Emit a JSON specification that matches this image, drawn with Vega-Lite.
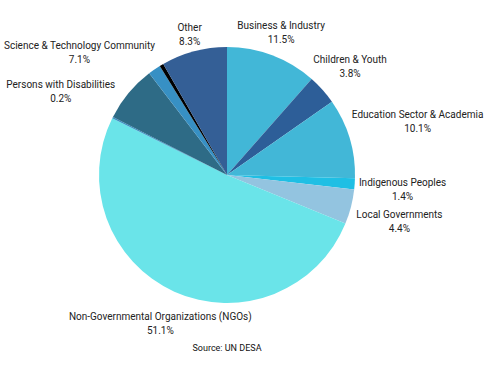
{
  "$schema": "https://vega.github.io/schema/vega-lite/v6.json",
  "autosize": "none",
  "width": 454,
  "height": 350,
  "padding": {"left": 0, "top": 0, "right": 38, "bottom": 27},
  "background": "white",
  "config": {"view": {"stroke": null}, "font": "Roboto"},
  "title": {"text": "Source: UN DESA", "orient": "bottom", "anchor": "middle", "offset": -14, "fontSize": 9, "fontWeight": "normal", "color": "#111", "font": "Roboto"},
  "data": {"values": [
    {"i": 1, "category": "Business & Industry", "value": 11.5, "show": true},
    {"i": 2, "category": "Children & Youth", "value": 3.8, "show": true},
    {"i": 3, "category": "Education Sector & Academia", "value": 10.1, "show": true},
    {"i": 4, "category": "Indigenous Peoples", "value": 1.4, "show": true},
    {"i": 5, "category": "Local Governments", "value": 4.4, "show": true},
    {"i": 6, "category": "Non-Governmental Organizations (NGOs)", "value": 51.1, "show": true},
    {"i": 7, "category": "Persons with Disabilities", "value": 0.2, "show": true},
    {"i": 8, "category": "Science & Technology Community", "value": 7.1, "show": true},
    {"i": 9, "category": "Unlabeled 1", "value": 1.6, "show": false},
    {"i": 10, "category": "Unlabeled 2", "value": 0.5, "show": false},
    {"i": 11, "category": "Other", "value": 8.3, "show": true}
  ]},
  "transform": [
    {"calculate": "datum.show ? datum.category + '\\n' + format(datum.value, '.1f') + '%' : ''", "as": "lbl"}
  ],
  "encoding": {
    "theta": {"field": "value", "type": "quantitative", "stack": true},
    "order": {"field": "i", "type": "quantitative"}
  },
  "layer": [
    {
      "mark": {"type": "arc", "outerRadius": 128, "stroke": null},
      "encoding": {
        "color": {"field": "category", "type": "nominal", "legend": null,
          "scale": {
            "domain": ["Business & Industry", "Children & Youth", "Education Sector & Academia", "Indigenous Peoples", "Local Governments", "Non-Governmental Organizations (NGOs)", "Persons with Disabilities", "Science & Technology Community", "Unlabeled 1", "Unlabeled 2", "Other"],
            "range": ["#42b7d7", "#2d5e98", "#42b7d7", "#1fbfe4", "#93c4e0", "#6ae4e9", "#3b8ec4", "#2e6b86", "#3790c4", "#000000", "#345f96"]
          }
        }
      }
    },
    {
      "mark": {"type": "text", "radius": 145, "dy": -7, "fontSize": 10, "lineBreak": "\n", "lineHeight": 14, "align": "center", "baseline": "middle", "color": "#222"},
      "encoding": {"text": {"condition": {"test": "datum.category == 'Other'", "field": "lbl"}, "value": ""}}
    },
    {
      "mark": {"type": "text", "radius": 153, "dy": -6, "fontSize": 10, "lineBreak": "\n", "lineHeight": 14, "align": "center", "baseline": "middle", "color": "#222"},
      "encoding": {"text": {"condition": {"test": "datum.category == 'Business & Industry'", "field": "lbl"}, "value": ""}}
    },
    {
      "mark": {"type": "text", "radius": 165, "dy": -5, "fontSize": 10, "lineBreak": "\n", "lineHeight": 14, "align": "center", "baseline": "middle", "color": "#222"},
      "encoding": {"text": {"condition": {"test": "datum.category == 'Children & Youth'", "field": "lbl"}, "value": ""}}
    },
    {
      "mark": {"type": "text", "radius": 162, "dy": -6, "fontSize": 10, "lineBreak": "\n", "lineHeight": 14, "align": "center", "baseline": "middle", "color": "#222"},
      "encoding": {"text": {"condition": {"test": "datum.category == 'Non-Governmental Organizations (NGOs)'", "field": "lbl"}, "value": ""}}
    },
    {
      "mark": {"type": "text", "radius": 176, "dy": -4, "fontSize": 10, "lineBreak": "\n", "lineHeight": 14, "align": "center", "baseline": "middle", "color": "#222"},
      "encoding": {"text": {"condition": {"test": "datum.category == 'Indigenous Peoples'", "field": "lbl"}, "value": ""}}
    },
    {
      "mark": {"type": "text", "radius": 178, "dy": -4, "fontSize": 10, "lineBreak": "\n", "lineHeight": 14, "align": "center", "baseline": "middle", "color": "#222"},
      "encoding": {"text": {"condition": {"test": "datum.category == 'Local Governments'", "field": "lbl"}, "value": ""}}
    },
    {
      "mark": {"type": "text", "radius": 186, "dy": -7, "fontSize": 10, "lineBreak": "\n", "lineHeight": 14, "align": "center", "baseline": "middle", "color": "#222"},
      "encoding": {"text": {"condition": {"test": "datum.category == 'Persons with Disabilities'", "field": "lbl"}, "value": ""}}
    },
    {
      "mark": {"type": "text", "radius": 192, "dy": -6, "fontSize": 10, "lineBreak": "\n", "lineHeight": 14, "align": "center", "baseline": "middle", "color": "#222"},
      "encoding": {"text": {"condition": {"test": "datum.category == 'Science & Technology Community'", "field": "lbl"}, "value": ""}}
    },
    {
      "mark": {"type": "text", "radius": 199, "dy": -3, "fontSize": 10, "lineBreak": "\n", "lineHeight": 14, "align": "center", "baseline": "middle", "color": "#222"},
      "encoding": {"text": {"condition": {"test": "datum.category == 'Education Sector & Academia'", "field": "lbl"}, "value": ""}}
    }
  ]
}
